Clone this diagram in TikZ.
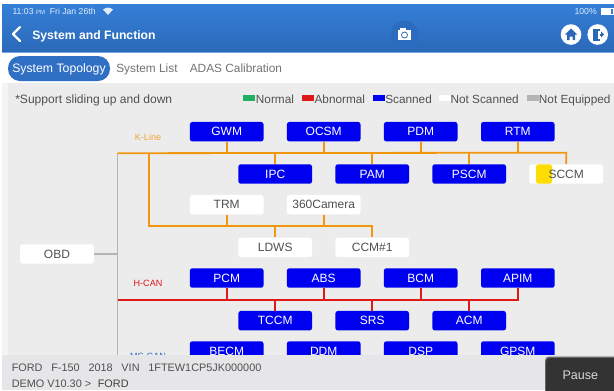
\documentclass[tikz,border=0pt]{standalone}
\usepackage{fontspec}
\setmainfont{Liberation Sans}
\definecolor{barA}{HTML}{3580D8}
\definecolor{barB}{HTML}{2B68B8}
\definecolor{tabblue}{HTML}{2F6FC4}
\definecolor{panel}{HTML}{ECECEC}
\definecolor{foot}{HTML}{E6E6E8}
\definecolor{kline}{HTML}{F0960F}
\definecolor{hcan}{HTML}{E01818}
\definecolor{busgray}{HTML}{B4B4B4}
\definecolor{ink}{HTML}{505050}
\definecolor{scanblue}{HTML}{0000F0}
\definecolor{normalgreen}{HTML}{20B060}
\definecolor{camring}{HTML}{2C6CC0}
\tikzset{
  x=0.75pt,y=-0.75pt,
  modbox/.style={minimum width=55.2pt,minimum height=14.6pt,rounded corners=1.8pt,inner sep=0pt,text height=6pt,text depth=0pt,font=\fontsize{9}{11}\selectfont},
  scanbox/.style={modbox,fill=scanblue,text=white},
  plainbox/.style={modbox,fill=white,text=ink},
  kbus/.style={draw=kline,line width=1.35pt},
  rbus/.style={draw=hcan,line width=1.35pt},
  gbus/.style={draw=busgray,line width=1.35pt},
  uitext/.style={inner sep=0pt,anchor=base west,text=ink,font=\fontsize{9.05}{10}\selectfont},
  legendtext/.style={uitext,font=\fontsize{8.85}{10}\selectfont},
  tabtext/.style={inner sep=0pt,anchor=base west,text=ink!80,font=\fontsize{8.9}{11}\selectfont},
  footext/.style={inner sep=0pt,anchor=base west,text=ink,font=\fontsize{8.15}{10}\selectfont},
  legendkey/.style={minimum width=9pt,minimum height=4.4pt,inner sep=0pt},
  buslabel/.style={inner sep=0pt,anchor=base,font=\fontsize{6.8}{8}\selectfont},
}
\begin{document}
\begin{tikzpicture}
\useasboundingbox (0,0) rectangle (614,390);
\fill[white] (0,0) rectangle (614,390);
% top bar
\shade[top color=barA,bottom color=barB] (2,4) rectangle (614,52);
\fill[barA!70!white] (2,52) rectangle (614,53);
\node[inner sep=0pt,anchor=base west,text=white!85!barA,font=\fontsize{6.5}{7}\selectfont] (clock) at (12.3,14.3) {11:03 {\fontsize{4.5}{5}\selectfont PM}\ \ Fri Jan 26th};
\fill[white!85!barA] (103,9.5) .. controls (107,7) and (109,7) .. (113,9.5) -- (108,15) -- cycle;
\node[inner sep=0pt,anchor=base east,text=white!85!barA,font=\fontsize{6.5}{7}\selectfont] (batt) at (597,14.3) {100\%};
\draw[white,line width=.5pt] (601,8.5) rectangle (613,14);
\fill[white] (601,8.5) rectangle (611,14);
\draw[white,line width=1.6pt,line cap=round,line join=round] (20,27) -- (13,34) -- (20,41);
\node[inner sep=0pt,anchor=base west,text=white,font=\bfseries\fontsize{9.15}{11}\selectfont] (title) at (32,39) {System and Function};
% camera
\fill[camring] (404.5,34.5) circle (14);
\fill[white] (398,30) rectangle (411,40);
\fill[white] (400,28) rectangle (406,31);
\draw[barB,line width=.6pt] (404.5,35) circle (3);
% home and exit
\fill[white] (571,34.5) circle (10.3);
\fill[barB] (571,28.5) -- (577,34.5) -- (575,34.5) -- (575,40) -- (572.5,40) -- (572.5,36.5) -- (569.5,36.5) -- (569.5,40) -- (567,40) -- (567,34.5) -- (565,34.5) -- cycle;
\fill[white] (597.7,34.5) circle (10.3);
\fill[barB] (592.5,28.5) rectangle (599.5,40.5);
\fill[barB] (599.5,33.5) rectangle (601,35.5);
\fill[barB] (601,31.5) -- (604,34.5) -- (601,37.5) -- cycle;
\fill[white] (598,30.5) rectangle (599.5,38.5);
% tabs
\fill[tabblue,rounded corners=9pt] (8,56) rectangle (110,81);
\node[inner sep=0pt,anchor=base,text=white,font=\fontsize{9.2}{11}\selectfont] (tabA) at (59,72.7) {System Topology};
\node[tabtext] (tabB) at (116,72.7) {System List};
\node[tabtext] (tabC) at (189.5,72.7) {ADAS Calibration};
% panel
\fill[panel!60!white] (2,83) rectangle (8,390);
\fill[panel] (8,83) rectangle (614,390);
\node[uitext] (hint) at (15,103) {*Support sliding up and down};
\node[legendkey,fill=normalgreen] (k1) at (249.3,98) {};
\node[legendtext] (l1) at (255.7,103) {Normal};
\node[legendkey,fill=hcan] (k2) at (307.7,98) {};
\node[legendtext] (l2) at (314.3,103) {Abnormal};
\node[legendkey,fill=scanblue] (k3) at (379,98) {};
\node[legendtext] (l3) at (385,103) {Scanned};
\node[legendkey,fill=white] (k4) at (444.5,98) {};
\node[legendtext] (l4) at (450.3,103) {Not Scanned};
\node[legendkey,fill=busgray] (k5) at (532.5,98) {};
\node[legendtext] (l5) at (538.7,103) {Not Equipped};
% modules
\node[scanbox] (gwm) at (226.7,131.7) {GWM};
\node[scanbox] (ocsm) at (323.7,131.7) {OCSM};
\node[scanbox] (pdm) at (420.7,131.7) {PDM};
\node[scanbox] (rtm) at (517.8,131.7) {RTM};
\node[scanbox] (ipc) at (275.2,174) {IPC};
\node[scanbox] (pam) at (372.2,174) {PAM};
\node[scanbox] (pscm) at (469.2,174) {PSCM};
\node[plainbox] (sccm) at (566.2,174) {};
\fill[yellow!80!orange,rounded corners=1.8pt] (536,164.3) rectangle (552,183.7);
\node[inner sep=0pt,anchor=base,text=ink,font=\fontsize{9}{11}\selectfont] (sccmt) at (566.2,178) {SCCM};
\node[plainbox] (trm) at (226.7,204.7) {TRM};
\node[plainbox] (cam) at (323.7,204.7) {360Camera};
\node[plainbox] (ldws) at (275.2,247.4) {LDWS};
\node[plainbox] (ccm) at (372.2,247.4) {CCM\#1};
\node[plainbox] (obd) at (57,254) {OBD};
\node[scanbox] (pcm) at (226.7,278) {PCM};
\node[scanbox] (abs) at (323.7,278) {ABS};
\node[scanbox] (bcm) at (420.7,278) {BCM};
\node[scanbox] (apim) at (517.8,278) {APIM};
\node[scanbox] (tccm) at (275.2,320.7) {TCCM};
\node[scanbox] (srs) at (372.2,320.7) {SRS};
\node[scanbox] (acm) at (469.2,320.7) {ACM};
\node[scanbox] (becm) at (226.7,351) {BECM};
\node[scanbox] (ddm) at (323.7,351) {DDM};
\node[scanbox] (dsp) at (420.7,351) {DSP};
\node[scanbox] (gpsm) at (517.8,351) {GPSM};
% bus coordinates
\coordinate (kL) at (117.5,153.2);
\coordinate (kR) at (566.2,152.7);
\coordinate (kB) at (149,226);
\coordinate (rL) at (117.5,300);
\coordinate (rR) at (517.8,300);
\coordinate (gB) at (117.5,356);
% buses
\draw[gbus] (kL) -- (gB);
\draw[gbus] (obd.east) -- (117.5,254);
\draw[kbus] (kL) -- (kR) -- (sccm.north);
\draw[kbus] (gwm.south) -- (226.7,153);
\draw[kbus] (ocsm.south) -- (323.7,153);
\draw[kbus] (pdm.south) -- (420.7,153);
\draw[kbus] (rtm.south) -- (517.8,153);
\draw[kbus] (ipc.north) -- (275.2,153);
\draw[kbus] (pam.north) -- (372.2,153);
\draw[kbus] (pscm.north) -- (469.2,153);
\draw[kbus] (149,153) -- (kB) -| (ccm.north);
\draw[kbus] (trm.south) -- (226.7,226);
\draw[kbus] (cam.south) -- (323.7,226);
\draw[kbus] (ldws.north) -- (275.2,226);
\draw[rbus] (rL) -- (rR) -- (apim.south);
\draw[rbus] (pcm.south) -- (226.7,300);
\draw[rbus] (abs.south) -- (323.7,300);
\draw[rbus] (bcm.south) -- (420.7,300);
\draw[rbus] (tccm.north) -- (275.2,300);
\draw[rbus] (srs.north) -- (372.2,300);
\draw[rbus] (acm.north) -- (469.2,300);
\node[buslabel,text=kline!85!white] (kl) at (148,140) {K-Line};
\node[buslabel,text=hcan] (hl) at (148,286.3) {H-CAN};
\node[buslabel,text=tabblue] (ml) at (148,359.5) {MS-CAN};
% footer
\fill[foot] (2,354.5) rectangle (614,390);
\node[footext] (f1) at (11.5,371.7) {FORD\hspace{6.6pt}F-150\hspace{6.6pt}2018\hspace{6.6pt}VIN\hspace{6.6pt}1FTEW1CP5JK000000};
\node[footext] (f2) at (11.5,387.7) {DEMO V10.30 >\hspace{5pt}\textcolor{black!75}{FORD}};
\fill[black!60,rounded corners=3pt] (545,356.5) rectangle (620,396);
\fill[black!80,rounded corners=3pt] (546,358) rectangle (620,396);
\node[inner sep=0pt,anchor=base,text=white!85!black,font=\fontsize{9.4}{11}\selectfont] (pause) at (580.3,379) {Pause};
\end{tikzpicture}
\end{document}
